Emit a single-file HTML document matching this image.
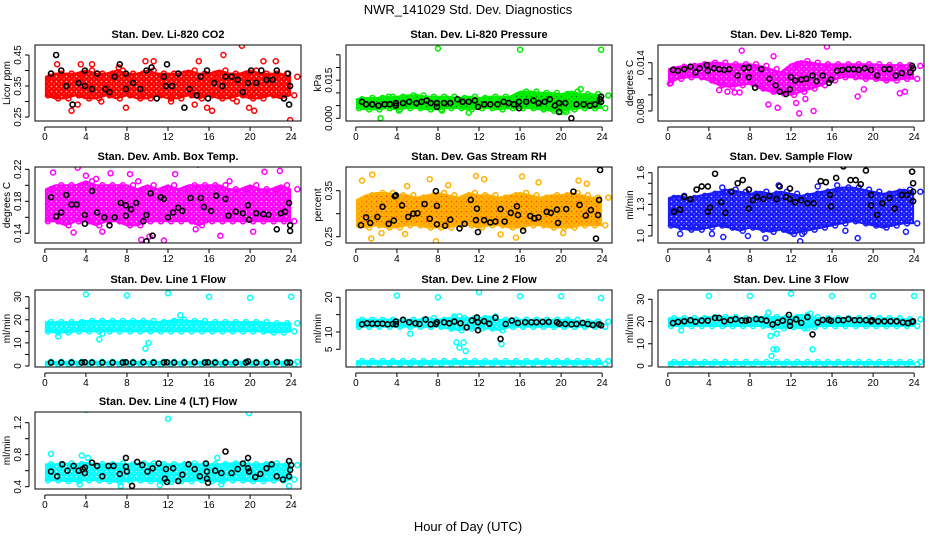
<!DOCTYPE html>
<html><head><meta charset="utf-8"><style>
body{margin:0;background:#fff;width:936px;height:540px;overflow:hidden}
svg{display:block;font-family:"Liberation Sans",sans-serif}
</style></head><body>
<svg id="c" width="936" height="540" viewBox="0 0 936 540" xmlns="http://www.w3.org/2000/svg">
<rect width="936" height="540" fill="#fff"/>
<text x="468" y="14" font-size="13" text-anchor="middle">NWR_141029  Std. Dev. Diagnostics</text>
<text x="468" y="531" font-size="13" text-anchor="middle">Hour of Day (UTC)</text>
</svg>
<script>
// ---- data (per panel) ----
const co2Lo=[0.32,0.31,0.31,0.32,0.31,0.31,0.32,0.31,0.32,0.31,0.31,0.32,0.31,0.31,0.32,0.31,0.32,0.31,0.31,0.32,0.31,0.31,0.32,0.31,0.32];
const co2Hi=[0.38,0.39,0.39,0.39,0.40,0.39,0.39,0.40,0.39,0.39,0.40,0.39,0.39,0.39,0.40,0.39,0.39,0.40,0.39,0.39,0.40,0.39,0.39,0.39,0.38];
const co2Out=[[1.2,0.42],[2.6,0.27],[3.2,0.29],[4.6,0.42],[7.2,0.41],[7.9,0.28],[10.6,0.43],[14.6,0.29],[15.0,0.43],[15.8,0.28],[16.3,0.27],[17.4,0.45],[19.2,0.48],[19.9,0.28],[20.4,0.27],[21.3,0.43],[22.5,0.43],[23.9,0.24],[9.8,0.43],[0.9,0.32],[3.5,0.42],[5.5,0.30],[12.3,0.30],[18.7,0.30]];
const co2Blk=[[0.6,0.39],[1.1,0.45],[1.6,0.40],[2.1,0.35],[2.7,0.29],[3.3,0.36],[3.9,0.40],[3.9,0.35],[4.6,0.34],[5.1,0.39],[5.9,0.34],[6.3,0.33],[6.8,0.38],[7.3,0.42],[7.9,0.34],[7.9,0.39],[8.6,0.36],[9.3,0.34],[9.9,0.40],[10.4,0.41],[10.9,0.31],[11.6,0.38],[11.8,0.35],[11.9,0.42],[12.4,0.35],[13.0,0.39],[13.6,0.28],[14.1,0.34],[14.8,0.32],[15.2,0.38],[15.8,0.40],[15.9,0.31],[16.5,0.36],[17.3,0.35],[17.6,0.38],[18.2,0.38],[18.8,0.37],[19.3,0.33],[19.8,0.36],[20.1,0.40],[20.6,0.36],[21.1,0.40],[21.6,0.37],[22.2,0.37],[22.6,0.40],[23.3,0.31],[23.7,0.39],[23.8,0.29],[23.9,0.35]];

const prLo=[0.004,0.0035,0.0035,0.004,0.0035,0.004,0.004,0.0035,0.0035,0.004,0.004,0.0035,0.004,0.004,0.0035,0.004,0.004,0.004,0.0035,0.003,0.003,0.0035,0.004,0.004,0.004];
const prHi=[0.0075,0.008,0.008,0.0085,0.0085,0.009,0.009,0.0085,0.0085,0.0085,0.008,0.0085,0.008,0.0085,0.0085,0.0085,0.0105,0.0105,0.01,0.01,0.0095,0.0105,0.0095,0.0095,0.009];
const prOut=[[8.0,0.0275],[16.0,0.027],[23.9,0.027],[2.4,0.000],[21.9,0.0115],[23.6,0.0095],[20.5,0.0025],[20.0,0.0025],[11.0,0.0022],[4.2,0.003],[8.4,0.003],[5.9,0.0085],[3.2,0.0085]];
const prBlk=[[0.6,0.0065],[1.0,0.0055],[1.6,0.0055],[2.2,0.005],[2.8,0.0055],[3.3,0.0055],[3.9,0.006],[3.9,0.005],[4.6,0.006],[5.2,0.0065],[5.9,0.006],[6.4,0.0065],[6.9,0.007],[7.3,0.006],[7.9,0.006],[7.9,0.0045],[8.6,0.006],[9.2,0.006],[9.9,0.0075],[10.4,0.0065],[11.0,0.0065],[11.6,0.007],[11.9,0.0045],[12.5,0.0055],[13.1,0.0055],[13.8,0.0055],[14.4,0.0065],[14.9,0.006],[15.4,0.0055],[15.9,0.0065],[15.9,0.004],[16.6,0.0065],[17.3,0.007],[17.8,0.006],[18.4,0.0065],[18.9,0.0075],[19.4,0.005],[19.8,0.006],[19.8,0.0025],[20.4,0.006],[21.0,0.000],[21.5,0.0055],[22.2,0.0055],[22.8,0.005],[23.3,0.0055],[23.8,0.0075],[23.9,0.0085],[23.9,0.0065]];

const tpLo=[0.0115,0.0120,0.0122,0.0122,0.0118,0.0112,0.0110,0.0112,0.0114,0.0108,0.0104,0.0102,0.0100,0.0104,0.0108,0.0112,0.0118,0.0122,0.0122,0.0120,0.0120,0.0118,0.0118,0.0120,0.0120];
const tpHi=[0.0132,0.0135,0.0136,0.0138,0.0140,0.0140,0.0138,0.0138,0.0138,0.0136,0.0132,0.0128,0.0138,0.0142,0.0140,0.0138,0.0138,0.0138,0.0138,0.0138,0.0138,0.0137,0.0137,0.0137,0.0136];
const tpOut=[[0.2,0.0114],[4.6,0.0117],[5.0,0.0106],[5.8,0.0104],[6.5,0.0103],[7.0,0.0103],[7.2,0.0155],[9.8,0.0088],[10.3,0.0148],[10.7,0.0084],[12.5,0.0090],[12.8,0.0077],[13.4,0.0095],[14.2,0.0080],[15.5,0.0160],[18.5,0.0098],[19.1,0.0107],[22.6,0.0102],[23.1,0.0104]];
const tpBlk=[[0.5,0.0131],[1.0,0.0130],[1.6,0.0132],[2.2,0.0135],[2.7,0.0128],[3.1,0.0133],[3.8,0.0137],[3.9,0.0130],[4.5,0.0133],[5.0,0.0132],[5.5,0.0131],[6.0,0.0132],[6.8,0.0124],[7.4,0.0133],[7.9,0.0134],[7.9,0.0122],[8.5,0.0109],[9.1,0.0132],[9.9,0.0120],[10.5,0.0112],[10.9,0.0104],[11.5,0.0101],[11.9,0.0107],[12.0,0.0122],[12.4,0.0118],[13.0,0.0119],[13.5,0.0120],[14.1,0.0124],[14.5,0.0117],[15.1,0.0124],[15.7,0.0115],[15.9,0.0119],[16.5,0.0130],[17.0,0.0131],[17.6,0.0132],[18.1,0.0132],[18.6,0.0131],[19.2,0.0133],[19.8,0.0131],[20.4,0.0124],[21.1,0.0132],[21.6,0.0132],[22.2,0.0124],[22.8,0.0127],[23.6,0.0128],[23.8,0.0136],[23.9,0.0133]];

const abLo=[0.155,0.155,0.150,0.155,0.155,0.150,0.155,0.155,0.150,0.150,0.155,0.155,0.155,0.155,0.155,0.150,0.155,0.155,0.155,0.155,0.155,0.155,0.155,0.155,0.155];
const abHi=[0.195,0.200,0.200,0.200,0.205,0.200,0.200,0.200,0.200,0.195,0.200,0.195,0.200,0.195,0.200,0.200,0.200,0.200,0.195,0.195,0.200,0.195,0.195,0.200,0.195];
const abOut=[[0.8,0.216],[3.2,0.222],[4.0,0.212],[5.0,0.208],[6.4,0.215],[8.3,0.214],[9.4,0.132],[10.2,0.136],[11.6,0.131],[12.7,0.214],[14.7,0.145],[17.1,0.137],[20.3,0.142],[21.4,0.217],[22.9,0.218],[2.8,0.141],[5.6,0.142],[18.0,0.205],[9.1,0.205]];
const abBlk=[[0.6,0.185],[1.1,0.161],[1.6,0.166],[2.1,0.188],[2.6,0.176],[3.1,0.176],[3.9,0.163],[3.9,0.152],[4.6,0.193],[5.1,0.166],[5.8,0.160],[6.3,0.150],[6.8,0.160],[7.4,0.178],[7.9,0.175],[7.9,0.162],[8.4,0.170],[8.9,0.178],[9.6,0.155],[9.9,0.163],[9.9,0.130],[10.3,0.190],[10.5,0.137],[11.3,0.185],[11.6,0.183],[12.0,0.160],[12.5,0.166],[13.0,0.172],[13.4,0.168],[14.2,0.184],[14.9,0.226],[15.2,0.184],[15.5,0.173],[16.2,0.168],[16.7,0.187],[17.6,0.183],[17.9,0.162],[18.6,0.167],[19.3,0.165],[19.8,0.175],[19.9,0.157],[20.6,0.165],[21.3,0.164],[21.8,0.163],[22.6,0.145],[23.0,0.165],[23.4,0.167],[23.8,0.178],[23.9,0.150],[23.9,0.143]];

const rhLo=[0.275,0.270,0.275,0.270,0.270,0.275,0.275,0.270,0.270,0.270,0.275,0.275,0.270,0.275,0.275,0.270,0.270,0.275,0.275,0.270,0.270,0.270,0.275,0.275,0.275];
const rhHi=[0.330,0.340,0.345,0.345,0.340,0.340,0.335,0.340,0.345,0.340,0.335,0.345,0.340,0.340,0.335,0.340,0.345,0.340,0.335,0.340,0.340,0.345,0.340,0.335,0.335];
const rhOut=[[0.6,0.372],[1.6,0.385],[1.5,0.246],[2.5,0.258],[5.0,0.360],[4.8,0.256],[7.2,0.375],[7.8,0.240],[9.0,0.362],[11.7,0.382],[12.5,0.375],[15.6,0.248],[16.2,0.381],[17.8,0.368],[20.2,0.258],[21.7,0.372],[22.5,0.365],[14.1,0.255]];
const rhBlk=[[0.5,0.275],[1.0,0.292],[1.4,0.280],[2.1,0.293],[2.6,0.315],[3.2,0.278],[3.7,0.285],[3.8,0.338],[3.9,0.340],[4.5,0.318],[5.1,0.293],[5.6,0.300],[6.0,0.301],[6.7,0.321],[7.2,0.289],[7.8,0.349],[7.9,0.317],[7.9,0.277],[8.7,0.274],[9.2,0.287],[10.1,0.268],[10.6,0.278],[11.2,0.330],[11.7,0.286],[11.8,0.311],[11.9,0.260],[12.5,0.286],[13.1,0.281],[13.6,0.283],[14.1,0.310],[14.5,0.283],[15.1,0.302],[15.7,0.316],[15.8,0.297],[16.3,0.263],[17.0,0.295],[17.4,0.290],[17.8,0.292],[18.6,0.304],[19.0,0.302],[19.6,0.309],[19.7,0.280],[20.5,0.310],[21.2,0.348],[21.8,0.319],[22.4,0.296],[22.9,0.308],[23.4,0.246],[23.6,0.297],[23.7,0.330],[23.8,0.395]];

const sfLo=[1.10,1.08,1.06,1.06,1.08,1.10,1.08,1.05,1.08,1.06,1.04,1.06,1.02,1.04,1.06,1.08,1.10,1.12,1.14,1.12,1.10,1.08,1.10,1.12,1.12];
const sfHi=[1.36,1.38,1.36,1.38,1.40,1.42,1.44,1.42,1.40,1.42,1.40,1.42,1.40,1.38,1.40,1.42,1.44,1.46,1.46,1.44,1.42,1.40,1.42,1.44,1.42];
const sfOut=[[1.2,1.02],[4.3,1.02],[5.4,0.99],[5.3,1.46],[7.8,1.00],[9.5,0.98],[10.8,1.48],[12.9,0.95],[13.1,1.02],[16.5,1.48],[17.3,1.05],[18.5,0.98],[23.2,1.04],[14.6,1.47]];
const sfBlk=[[0.6,1.23],[1.2,1.25],[1.6,1.37],[2.2,1.35],[2.8,1.44],[3.3,1.47],[3.9,1.47],[3.9,1.23],[4.1,1.27],[4.6,1.59],[5.2,1.32],[5.6,1.22],[6.2,1.42],[6.8,1.50],[7.3,1.53],[7.9,1.44],[7.9,1.26],[8.3,1.34],[8.7,1.37],[9.3,1.35],[9.9,1.38],[10.6,1.35],[10.9,1.47],[11.5,1.37],[11.9,1.35],[11.9,1.45],[12.4,1.32],[13.0,1.34],[13.6,1.31],[14.2,1.31],[14.9,1.52],[15.4,1.51],[15.8,1.39],[15.9,1.28],[16.4,1.55],[17.1,1.66],[17.8,1.53],[18.3,1.53],[18.8,1.49],[19.3,1.62],[19.8,1.29],[19.8,1.39],[20.4,1.20],[20.9,1.31],[21.6,1.36],[22.1,1.26],[22.8,1.39],[23.3,1.39],[23.8,1.61],[23.9,1.50],[23.9,1.42],[23.9,1.33]];

const l1Lo=[15.0,14.5,14.5,15.0,15.0,15.0,15.0,15.0,15.0,15.0,15.0,15.0,15.0,15.0,15.0,15.0,15.0,15.0,15.0,15.0,15.0,15.0,14.5,14.5,15.0];
const l1Hi=[19.0,19.0,19.0,19.0,19.5,19.5,19.5,19.5,19.5,19.5,19.5,19.0,19.5,20.0,19.5,19.5,19.0,19.0,19.0,19.0,19.0,19.0,18.5,18.5,18.5];
const l1Lo2=[0.8,0.8,0.8,0.8,0.8,0.8,0.8,0.8,0.8,0.8,0.8,0.8,0.8,0.8,0.8,0.8,0.8,0.8,0.8,0.8,0.8,0.8,0.8,0.8,0.8];
const l1Hi2=[1.8,1.8,1.8,1.8,1.8,1.8,1.8,1.8,1.8,1.8,1.8,1.8,1.8,1.8,1.8,1.8,1.8,1.8,1.8,1.8,1.8,1.8,1.8,1.8,1.8];
const l1Out=[[4.0,31],[8.0,30.5],[12.0,31.5],[16.0,30],[20.0,29.5],[24.0,30],[5.3,11.5],[5.6,14],[9.8,7.5],[10.1,10],[13.2,22],[1.3,12.8]];
const l1Blk=[[0.6,1.5],[1.6,1.5],[2.6,1.5],[3.6,1.5],[3.9,1.6],[4.6,1.5],[5.6,1.5],[6.6,1.5],[7.6,1.5],[7.9,1.6],[8.6,1.5],[9.6,1.6],[10.6,1.5],[11.6,1.5],[11.9,1.6],[12.6,1.5],[13.6,1.5],[14.6,1.6],[15.6,1.5],[15.9,1.6],[16.6,1.5],[17.6,1.5],[18.6,1.5],[19.6,1.5],[19.8,2.0],[20.6,1.5],[21.6,1.5],[22.6,1.7],[23.6,1.5],[23.9,1.5]];

const l2Lo=[11.5,11.5,11.5,11.5,11.5,11.5,11.5,11.5,11.5,11.0,10.5,11.0,11.0,11.0,10.5,11.5,11.5,11.5,11.5,11.5,11.5,11.5,11.5,11.5,11.5];
const l2Hi=[13.5,13.5,13.5,13.5,13.5,13.5,13.5,14.0,13.5,14.0,14.0,14.0,14.0,14.5,13.5,13.5,13.5,13.5,13.5,13.5,13.5,13.5,13.0,13.0,13.0];
const l2Lo2=[0.8,0.8,0.8,0.8,0.8,0.8,0.8,0.8,0.8,0.8,0.8,0.8,0.8,0.8,0.8,0.8,0.8,0.8,0.8,0.8,0.8,0.8,0.8,0.8,0.8];
const l2Hi2=[1.6,1.6,1.6,1.6,1.6,1.6,1.6,1.6,1.6,1.6,1.6,1.6,1.6,1.6,1.6,1.6,1.6,1.6,1.6,1.6,1.6,1.6,1.6,1.6,1.6];
const l2Out=[[4.0,20.5],[8.0,20],[12.0,21.5],[16.0,20.3],[20.0,20.3],[23.9,19.8],[5.3,9.5],[9.8,7],[10.1,5.5],[10.5,7],[10.7,4.5],[14.2,6.5],[9.6,14.5],[10.1,14.5]];
const l2Blk=[[0.6,12.2],[1.1,12.5],[1.6,12.4],[2.1,12.4],[2.6,12.4],[3.1,12.2],[3.6,12.3],[3.9,12.2],[3.9,13.0],[4.6,13.5],[5.2,12.8],[5.8,12.5],[6.2,12.3],[6.8,13.6],[7.3,12.2],[7.8,12.3],[7.9,12.8],[8.6,12.8],[9.1,12.5],[9.6,13.0],[10.2,12.5],[10.8,11.3],[11.3,13.3],[11.8,14.2],[11.9,12.8],[11.9,10.5],[12.5,13.1],[13.0,12.4],[13.6,14.1],[14.1,8.0],[14.6,12.3],[15.2,13.3],[15.8,12.6],[16.5,12.8],[17.1,12.8],[17.6,12.8],[18.2,12.9],[18.8,12.9],[19.6,12.8],[19.8,12.4],[20.4,12.3],[21.0,12.2],[21.5,12.3],[22.1,12.6],[22.6,12.3],[23.1,12.0],[23.7,12.2],[23.9,11.9]];

const l3Lo=[18.0,18.0,18.0,18.0,18.0,18.0,18.0,18.0,18.0,18.0,17.5,17.0,17.5,17.0,17.5,18.0,18.0,18.0,18.0,18.0,18.0,18.0,18.0,18.0,18.0];
const l3Hi=[21.5,21.5,21.5,21.5,22.0,22.0,22.0,21.5,21.5,22.0,22.0,22.0,22.0,23.0,22.0,21.5,21.5,21.5,21.5,21.5,21.5,21.5,21.5,21.0,21.0];
const l3Lo2=[0.8,0.8,0.8,0.8,0.8,0.8,0.8,0.8,0.8,0.8,0.8,0.8,0.8,0.8,0.8,0.8,0.8,0.8,0.8,0.8,0.8,0.8,0.8,0.8,0.8];
const l3Hi2=[1.8,1.8,1.8,1.8,1.8,1.8,1.8,1.8,1.8,1.8,1.8,1.8,1.8,1.8,1.8,1.8,1.8,1.8,1.8,1.8,1.8,1.8,1.8,1.8,1.8];
const l3Out=[[4.0,31.5],[8.0,31.5],[12.0,32.5],[16.0,31.5],[20.0,31.5],[24.0,31.5],[1.3,16],[9.8,24],[10.0,13.5],[10.3,7.5],[10.6,7.5],[10.1,4.5],[10.6,14.5],[14.1,7.5],[13.9,23.5],[13.6,17]];
const l3Blk=[[0.5,19.3],[1.0,19.8],[1.6,20.1],[2.2,20.6],[2.7,19.9],[3.3,20.4],[3.9,20.4],[4.6,21.6],[5.0,21.6],[5.5,20.1],[6.1,20.6],[6.6,21.1],[7.2,20.5],[7.6,20.4],[7.9,20.7],[8.6,21.1],[9.1,20.9],[9.6,20.4],[10.2,18.7],[10.7,19.6],[11.2,20.4],[11.8,23.0],[11.9,18.1],[11.9,19.9],[12.5,21.0],[13.0,19.4],[13.6,22.0],[14.1,14.2],[14.6,19.6],[15.1,20.7],[15.7,20.7],[15.9,20.3],[16.6,20.6],[17.1,20.6],[17.6,21.1],[18.2,20.6],[18.7,20.6],[19.3,20.6],[19.8,20.1],[19.9,20.6],[20.5,20.1],[21.1,20.1],[21.7,20.1],[22.3,20.1],[22.9,19.6],[23.4,19.3],[23.8,19.9],[23.9,20.1]];

const l4Lo=[0.48,0.48,0.47,0.47,0.48,0.48,0.47,0.46,0.47,0.48,0.47,0.47,0.46,0.47,0.47,0.48,0.47,0.47,0.48,0.48,0.47,0.47,0.48,0.48,0.49];
const l4Hi=[0.68,0.68,0.69,0.68,0.70,0.68,0.68,0.69,0.68,0.69,0.69,0.68,0.68,0.68,0.69,0.68,0.68,0.68,0.69,0.70,0.68,0.68,0.69,0.68,0.67];
const l4Out=[[4.0,1.36],[12.0,1.25],[19.9,1.32],[0.6,0.81],[3.6,0.79],[4.2,0.76],[7.4,0.41],[11.2,0.42],[16.8,0.76],[17.2,0.43],[23.8,0.41],[3.4,0.43]];
const l4Blk=[[0.6,0.59],[1.2,0.53],[1.7,0.68],[2.2,0.60],[2.8,0.66],[3.3,0.60],[3.7,0.62],[3.9,0.64],[3.9,0.57],[4.6,0.70],[5.1,0.66],[5.6,0.53],[6.2,0.66],[6.7,0.66],[7.3,0.56],[7.9,0.76],[7.9,0.65],[8.0,0.59],[8.5,0.41],[9.0,0.71],[9.5,0.67],[10.0,0.59],[10.5,0.63],[11.1,0.69],[11.7,0.50],[11.8,0.62],[11.9,0.46],[12.5,0.63],[13.0,0.47],[13.4,0.55],[14.0,0.68],[14.6,0.62],[15.1,0.53],[15.7,0.69],[15.8,0.59],[15.8,0.50],[15.9,0.45],[16.6,0.60],[17.2,0.57],[17.6,0.84],[18.2,0.57],[18.8,0.62],[19.3,0.69],[19.8,0.76],[19.8,0.63],[19.9,0.59],[20.5,0.52],[21.0,0.56],[21.6,0.63],[22.1,0.68],[22.6,0.53],[23.2,0.49],[23.8,0.72],[23.8,0.53],[23.9,0.61],[24.0,0.67]];

// ---- layout / axes config ----
const panels=[
 {name:"co2",title:"Stan. Dev. Li-820 CO2",yl:"Licor ppm",col:0,row:0,ya:[0.45,55,0.25,117],ticks:[0.25,0.30,0.35,0.40,0.45],labs:["0.25","","0.35","","0.45"],color:"#ff0000",speck:"#fff",lo:co2Lo,hi:co2Hi,out:co2Out,blk:co2Blk},
 {name:"pressure",title:"Stan. Dev. Li-820 Pressure",yl:"kPa",col:1,row:0,ya:[0,118.3,0.015,80.2],ticks:[0,0.005,0.01,0.015,0.02,0.025],labs:["0.000","","","0.015","",""],color:"#00ee00",speck:"#0a5a0a",lo:prLo,hi:prHi,out:prOut,blk:prBlk},
 {name:"li820-temp",title:"Stan. Dev. Li-820 Temp.",yl:"degrees C",col:2,row:0,ya:[0.014,62.7,0.008,111],ticks:[0.008,0.010,0.012,0.014],labs:["0.008","","","0.014"],color:"#ff00ff",speck:"#fff",lo:tpLo,hi:tpHi,out:tpOut,blk:tpBlk},
 {name:"amb-box-temp",title:"Stan. Dev. Amb. Box Temp.",yl:"degrees C",col:0,row:1,ya:[0.22,169.3,0.14,233.3],ticks:[0.14,0.16,0.18,0.20,0.22],labs:["0.14","","0.18","","0.22"],color:"#ff00ff",speck:"#fff",lo:abLo,hi:abHi,out:abOut,blk:abBlk},
 {name:"gas-stream-rh",title:"Stan. Dev. Gas Stream RH",yl:"percent",col:1,row:1,ya:[0.35,190.7,0.25,236.7],ticks:[0.25,0.30,0.35],labs:["0.25","","0.35"],color:"#ffb000",speck:"#ff2000",lo:rhLo,hi:rhHi,out:rhOut,blk:rhBlk},
 {name:"sample-flow",title:"Stan. Dev. Sample Flow",yl:"ml/min",col:2,row:1,ya:[1.6,172.7,1.0,236],ticks:[1.0,1.1,1.2,1.3,1.4,1.5,1.6],labs:["1.0","","","1.3","","","1.6"],color:"#1a1aff",speck:"#fff",lo:sfLo,hi:sfHi,out:sfOut,blk:sfBlk},
 {name:"line1-flow",title:"Stan. Dev. Line 1 Flow",yl:"ml/min",col:0,row:2,ya:[30,296.7,0,366],ticks:[0,5,10,15,20,25,30],labs:["0","","10","","20","","30"],color:"#00ffff",speck:"#fff",lo:l1Lo,hi:l1Hi,lo2:l1Lo2,hi2:l1Hi2,out:l1Out,blk:l1Blk},
 {name:"line2-flow",title:"Stan. Dev. Line 2 Flow",yl:"ml/min",col:1,row:2,ya:[20,297.3,5,349.3],ticks:[5,10,15,20],labs:["5","10","","20"],color:"#00ffff",speck:"#fff",lo:l2Lo,hi:l2Hi,lo2:l2Lo2,hi2:l2Hi2,out:l2Out,blk:l2Blk},
 {name:"line3-flow",title:"Stan. Dev. Line 3 Flow",yl:"ml/min",col:2,row:2,ya:[30,299.3,0,366],ticks:[0,10,20,30],labs:["0","10","20","30"],color:"#00ffff",speck:"#fff",lo:l3Lo,hi:l3Hi,lo2:l3Lo2,hi2:l3Hi2,out:l3Out,blk:l3Blk},
 {name:"line4-flow",title:"Stan. Dev. Line 4 (LT) Flow",yl:"ml/min",col:0,row:3,ya:[1.2,422.7,0.4,486.7],ticks:[0.4,0.6,0.8,1.0,1.2],labs:["0.4","","0.8","","1.2"],color:"#00ffff",speck:"#fff",lo:l4Lo,hi:l4Hi,out:l4Out,blk:l4Blk}
];
const colL=[35,346,658], colW=266;
const rowT=[45,167,290,412], rowB=[121,243,367,489];
const xTicks=[0,4,8,12,16,20,24];
const NS="http://www.w3.org/2000/svg";
const svg=document.getElementById('c');
function mk(tag,attrs,parent){const e=document.createElementNS(NS,tag);for(const k in attrs)e.setAttribute(k,attrs[k]);(parent||svg).appendChild(e);return e;}
const defs=mk('defs',{});

panels.forEach(p=>{
  const L=colL[p.col],R=L+colW,T=rowT[p.row],B=rowB[p.row];
  const xs=h=>L+(h+0.96)/25.92*colW;
  const ys=v=>p.ya[1]+(v-p.ya[0])*(p.ya[3]-p.ya[1])/(p.ya[2]-p.ya[0]);
  const pat=mk('pattern',{id:'pat-'+p.name,width:5,height:5,patternUnits:'userSpaceOnUse'},defs);
  mk('rect',{width:5,height:5,fill:p.color},pat);
  mk('circle',{cx:1.5,cy:1.5,r:0.8,fill:p.speck,'fill-opacity':0.8},pat);
  mk('circle',{cx:4,cy:3.8,r:0.6,fill:p.speck,'fill-opacity':0.6},pat);
  const g=mk('g',{});
  
  
  const clipId='clip-'+p.name;
  const cp=mk('clipPath',{id:clipId},g);mk('rect',{x:L,y:T,width:colW,height:B-T},cp);
  const plot=mk('g',{'clip-path':'url(#'+clipId+')'},g);
  
  
  const bands=[[p.lo,p.hi]];if(p.lo2)bands.push([p.lo2,p.hi2]);
  bands.forEach((b,bi)=>{
    let d='';
    const hx=i=>xs(i===0?0.1:(i===24?23.9:i)).toFixed(1);
    b[1].forEach((v,i)=>{d+=(i?'L':'M')+hx(i)+','+ys(v).toFixed(1);});
    for(let i=24;i>=0;i--)d+='L'+hx(i)+','+ys(b[0][i]).toFixed(1);
    const path=mk('path',{d:d+'Z',fill:'url(#pat-'+p.name+')',stroke:p.color,'stroke-width':2,'stroke-linejoin':'round'},plot);
    
    
    b[0].forEach((v,i)=>{
      const c1=mk('circle',{cx:xs(i+0.3),cy:ys(v),r:2.5,fill:'none',stroke:p.color,'stroke-width':1.5},plot);
      
      
      const c2=mk('circle',{cx:xs(i+0.6),cy:ys(b[1][i]),r:2.5,fill:'none',stroke:p.color,'stroke-width':1.5},plot);
      
      
    });
  });
  p.out.forEach(o=>{
    const c=mk('circle',{cx:xs(o[0]),cy:ys(o[1]),r:2.5,fill:'none',stroke:p.color,'stroke-width':1.5},plot);
    
    
  });
  p.blk.forEach(o=>{
    const c=mk('circle',{cx:xs(o[0]),cy:ys(o[1]),r:2.5,fill:'none',stroke:'#000','stroke-width':1.6},plot);
    
    
  });
  const box=mk('rect',{x:L,y:T,width:colW,height:B-T,fill:'none',stroke:'#000','stroke-width':1},g);
  
  
  const t=mk('text',{x:(L+R)/2,y:T-7,'font-size':11,'font-weight':'bold','text-anchor':'middle'},g);
  t.textContent=p.title;
  
  
  mk('line',{x1:xs(0),x2:xs(24),y1:B+6,y2:B+6,stroke:'#000'},g);
  xTicks.forEach(h=>{
    mk('line',{x1:xs(h),x2:xs(h),y1:B+6,y2:B+10,stroke:'#000'},g);
    const tx=mk('text',{x:xs(h),y:B+19,'font-size':10,'text-anchor':'middle'},g);
    tx.textContent=h;
    
    
  });
  const ya=L-6;
  mk('line',{x1:ya,x2:ya,y1:ys(p.ticks[0]),y2:ys(p.ticks[p.ticks.length-1]),stroke:'#000'},g);
  p.ticks.forEach((v,i)=>{
    const y=ys(v);
    mk('line',{x1:ya-4,x2:ya,y1:y,y2:y,stroke:'#000'},g);
    if(p.labs[i]){
      const ty=mk('text',{x:0,y:0,'font-size':10,'text-anchor':'middle',transform:'translate('+(ya-8)+','+y+') rotate(-90)'},g);
      ty.textContent=p.labs[i];
      
      
    }
  });
  const yl=mk('text',{x:0,y:0,'font-size':10,'text-anchor':'middle',transform:'translate('+(L-25)+','+((T+B)/2)+') rotate(-90)'},g);
  yl.textContent=p.yl;
  
  
});
</script>
</body></html>
